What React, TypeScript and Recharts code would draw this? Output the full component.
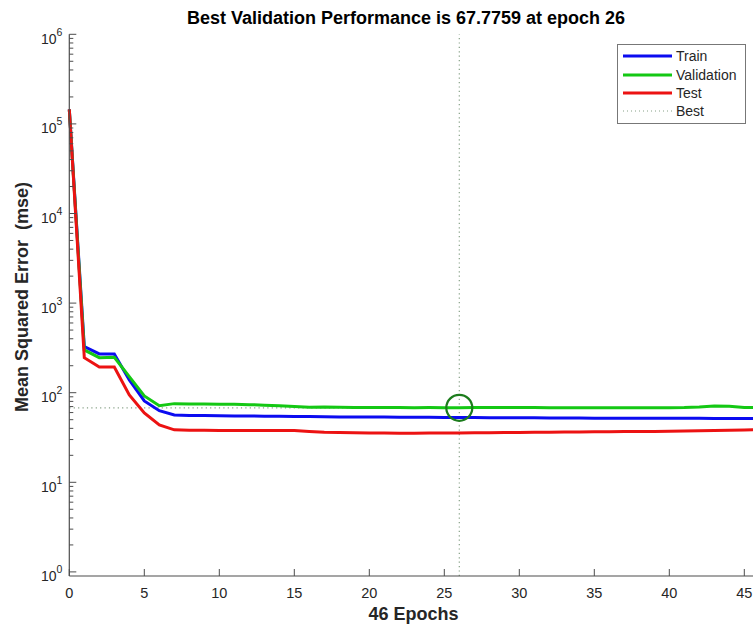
import { LineChart, Line, XAxis, YAxis, ReferenceLine, ReferenceDot } from "recharts"

const epochs = [
  0, 1, 2, 3, 4, 5, 6, 7, 8, 9, 10, 11, 12, 13, 14, 15, 16, 17, 18, 19, 20, 21, 22, 23,
  24, 25, 26, 27, 28, 29, 30, 31, 32, 33, 34, 35, 36, 37, 38, 39, 40, 41, 42, 43, 44, 45, 46,
]

const trainMse = [
  145000, 327, 271, 271, 139, 81, 63, 56.5, 55.8, 55.5, 55.3, 55.1, 54.9, 54.7, 54.5, 54.3,
  54.1, 53.9, 53.7, 53.6, 53.5, 53.4, 53.3, 53.2, 53.1, 53.0, 52.9, 52.8, 52.7, 52.6, 52.5,
  52.4, 52.3, 52.2, 52.1, 52.0, 52.0, 51.9, 51.9, 51.8, 51.8, 51.7, 51.7, 51.6, 51.6, 51.5, 51.5,
]

const validationMse = [
  144000, 300, 246, 248, 151, 92, 71.5, 75.5, 74.8, 74.6, 74.5, 74.3, 73.6, 72.6, 71.6, 70.2,
  68.6, 69.2, 68.8, 68.4, 68.4, 68.3, 68.2, 68.1, 68.3, 68.1, 67.7759, 68.3, 68.3, 68.2, 68.3,
  68.2, 68.0, 68.0, 68.1, 68.0, 67.9, 68.0, 68.0, 68.1, 68.0, 68.3, 69.3, 71.0, 70.5, 68.5, 68.3,
]

const testMse = [
  145000, 246, 193, 193, 94.5, 59.5, 43.7, 38.5, 38.2, 38.0, 37.9, 37.9, 37.9, 37.8, 37.8, 37.8,
  37.0, 36.3, 36.0, 35.8, 35.6, 35.4, 35.2, 35.3, 35.4, 35.5, 35.6, 35.7, 35.8, 35.9, 36.0,
  36.1, 36.3, 36.4, 36.5, 36.6, 36.7, 36.8, 36.9, 37.0, 37.2, 37.4, 37.6, 37.8, 38.0, 38.3, 38.6,
]

const bestEpoch = 26
const bestPerf = 67.7759

const xTicks = [0, 5, 10, 15, 20, 25, 30, 35, 40, 45]
const decades = [1, 10, 100, 1000, 10000, 100000, 1000000]
// minor log ticks 2..9 inside each decade
const yTicks = decades.flatMap((d, i) =>
  i < decades.length - 1 ? [d, 2 * d, 3 * d, 4 * d, 5 * d, 6 * d, 7 * d, 8 * d, 9 * d] : [d]
)

const data = epochs.map((epoch, i) => ({
  epoch,
  train: trainMse[i],
  validation: validationMse[i],
  test: testMse[i],
}))

const FONT = "'Liberation Sans', Arial, Helvetica, sans-serif"
const AXIS = "#4d4d4d"
const TXT = "#262626"
const BLUE = "#0b0bf0"
const GREEN = "#14c814"
const RED = "#ec1212"
const BEST = "#86a086"

function YTick(props: any) {
  const { x, y, payload } = props
  const lg = Math.log10(payload.value)
  const exp = Math.round(lg)
  const major = Math.abs(lg - exp) < 1e-6
  return (
    <g>
      <line x1={x} x2={x + (major ? 7 : 4)} y1={y} y2={y} stroke={AXIS} strokeWidth={1} />
      {major && (
        <text x={x - 7} y={y + 9.5} textAnchor="end" fill={TXT} fontFamily={FONT} fontSize={14}>
          <tspan>10</tspan>
          <tspan dy={-8} fontSize={10.5}>{exp}</tspan>
        </text>
      )}
    </g>
  )
}

function XTick(props: any) {
  const { x, y, payload } = props
  return (
    <g>
      <line x1={x} x2={x} y1={y} y2={y - 7} stroke={AXIS} strokeWidth={1} />
      <text x={x} y={y + 22} textAnchor="middle" fill={TXT} fontFamily={FONT} fontSize={14.5}>
        {payload.value}
      </text>
    </g>
  )
}

const legendItems = [
  { name: "Train", color: BLUE, dotted: false },
  { name: "Validation", color: GREEN, dotted: false },
  { name: "Test", color: RED, dotted: false },
  { name: "Best", color: BEST, dotted: true },
]

function LegendBox() {
  return (
    <div
      style={{
        position: "absolute",
        left: 617,
        top: 44,
        width: 129,
        height: 80,
        border: "1px solid #777",
        background: "#fff",
        padding: "2px 0 1px 5px",
        fontFamily: FONT,
        fontSize: 14,
        color: TXT,
        boxSizing: "border-box",
      }}
    >
      {legendItems.map((it) => (
        <div key={it.name} style={{ display: "flex", alignItems: "center", height: 18.4 }}>
          <svg width={49} height={6} style={{ marginRight: 4 }}>
            <line
              x1={0}
              x2={49}
              y1={3}
              y2={3}
              stroke={it.color}
              strokeWidth={it.dotted ? 1 : 3}
              strokeDasharray={it.dotted ? "1 3" : undefined}
            />
          </svg>
          <span>{it.name}</span>
        </div>
      ))}
    </div>
  )
}

export default function App() {
  return (
    <div
      style={{
        position: "absolute",
        left: 0,
        top: 0,
        width: 753,
        height: 625,
        overflow: "hidden",
        background: "#fff",
      }}
    >
      <LineChart
        width={790}
        height={625}
        data={data}
        margin={{ top: 34.3, right: 30.7, bottom: 0, left: 0 }}
      >
        <XAxis
          dataKey="epoch"
          type="number"
          domain={[0, 46]}
          ticks={xTicks}
          interval={0}
          height={49}
          tickSize={0}
          tickMargin={0}
          tickLine={false}
          tick={<XTick />}
          axisLine={{ stroke: AXIS, strokeWidth: 1.2 }}
        />
        <YAxis
          scale="log"
          type="number"
          domain={[0.9, 1000000]}
          allowDataOverflow
          ticks={yTicks}
          interval={0}
          width={69.3}
          tickSize={0}
          tickMargin={0}
          tickLine={false}
          tick={<YTick />}
          axisLine={{ stroke: AXIS, strokeWidth: 1.2 }}
        />
        <ReferenceLine
          x={bestEpoch}
          stroke={BEST}
          strokeWidth={1.2}
          strokeDasharray="1.2 3.2"
        />
        <ReferenceLine
          segment={[
            { x: 0, y: bestPerf },
            { x: bestEpoch, y: bestPerf },
          ]}
          stroke={BEST}
          strokeWidth={1.2}
          strokeDasharray="1.2 3.2"
        />
        <Line
          dataKey="train"
          type="linear"
          stroke={BLUE}
          strokeWidth={3}
          dot={false}
          isAnimationActive={false}
        />
        <Line
          dataKey="validation"
          type="linear"
          stroke={GREEN}
          strokeWidth={3}
          dot={false}
          isAnimationActive={false}
        />
        <Line
          dataKey="test"
          type="linear"
          stroke={RED}
          strokeWidth={3}
          dot={false}
          isAnimationActive={false}
        />
        <ReferenceDot
          x={bestEpoch}
          y={bestPerf}
          r={13}
          fill="none"
          stroke="#1c7c1c"
          strokeWidth={2.2}
        />
      </LineChart>
      <LegendBox />
      <svg
        width={753}
        height={625}
        style={{ position: "absolute", left: 0, top: 0, pointerEvents: "none" }}
      >
        <text
          x={406}
          y={24}
          textAnchor="middle"
          fontFamily={FONT}
          fontWeight="bold"
          fontSize={18}
          fill="#000"
        >
          Best Validation Performance is 67.7759 at epoch 26
        </text>
        <text
          x={413.5}
          y={620}
          textAnchor="middle"
          fontFamily={FONT}
          fontWeight="bold"
          fontSize={18}
          fill={TXT}
        >
          46 Epochs
        </text>
        <text
          transform="translate(28, 297) rotate(-90)"
          textAnchor="middle"
          fontFamily={FONT}
          fontWeight="bold"
          fontSize={18}
          fill={TXT}
          style={{ whiteSpace: "pre" }}
        >
          Mean Squared Error  (mse)
        </text>
      </svg>
    </div>
  )
}
